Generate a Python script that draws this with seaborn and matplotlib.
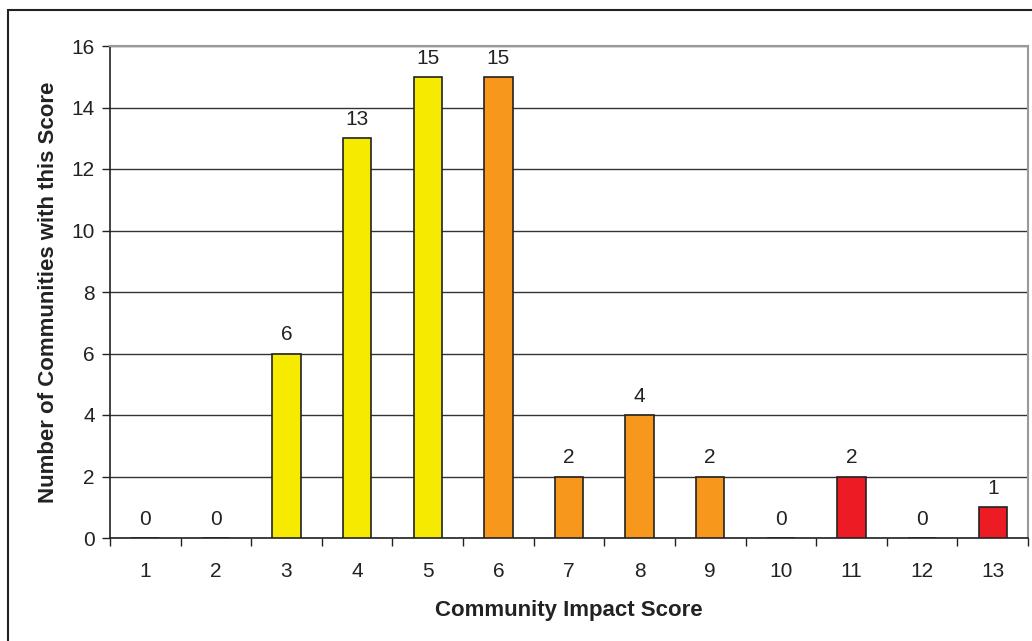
import pandas as pd
import matplotlib
matplotlib.use("Agg")
import matplotlib.pyplot as plt
import seaborn as sns
from matplotlib.patches import Rectangle

# Datos
puntajes = ["1", "2", "3", "4", "5", "6", "7", "8", "9", "10", "11", "12", "13"]
comunidades = [0, 0, 6, 13, 15, 15, 2, 4, 2, 0, 2, 0, 1]
grupo = ["bajo", "bajo", "bajo", "bajo", "bajo", "medio", "medio", "medio", "medio",
         "alto", "alto", "alto", "alto"]
colores = {"bajo": "#F5EA00", "medio": "#F7981D", "alto": "#ED1C24"}

df = pd.DataFrame({"puntaje": puntajes, "n": comunidades, "grupo": grupo})

sns.set_style("white")
plt.rcParams['font.family'] = ['Liberation Sans', 'DejaVu Sans']

fig = plt.figure(figsize=(10.32, 6.41), dpi=100)
ax = fig.add_axes([110 / 1032, 103 / 641, 918 / 1032, 492 / 641])

sns.barplot(data=df, x="puntaje", y="n", hue="grupo", palette=colores, dodge=False,
            saturation=1, width=0.4, edgecolor="#222222", linewidth=1.2, legend=False,
            ax=ax, zorder=3)

ax.set_ylim(0, 16)
ax.set_xlim(-0.5, len(puntajes) - 0.5)
ax.set_yticks(range(0, 17, 2))
ax.yaxis.grid(True, color="#333333", linewidth=1)
ax.set_axisbelow(True)

# etiquetas de valores
for i, v in enumerate(comunidades):
    ax.text(i, v + 0.3, str(v), ha="center", va="bottom", fontsize=15, color="#222222")

# ticks entre categorias
ax.set_xticks([i - 0.5 for i in range(len(puntajes) + 1)], minor=True)
ax.tick_params(axis="x", which="minor", length=6, width=1, color="#222222", direction="out", bottom=True)
ax.tick_params(axis="x", which="major", length=0, labelsize=15, pad=17, colors="#222222")
ax.tick_params(axis="y", which="major", length=6, width=1, direction="out", left=True,
               labelsize=15, pad=5, colors="#222222")

for lado in ["left", "bottom"]:
    ax.spines[lado].set_color("#222222")
    ax.spines[lado].set_linewidth(1.2)
for lado in ["top", "right"]:
    ax.spines[lado].set_color("#999999")
    ax.spines[lado].set_linewidth(1.5)

ax.set_xlabel("Community Impact Score", fontsize=16, fontweight="bold", labelpad=14, color="#222222")
ax.set_ylabel("Number of Communities with this Score", fontsize=16, fontweight="bold",
              labelpad=9, color="#222222")

# marco exterior
fig.patches.append(Rectangle((8 / 1032, -0.05), 1.1, 1 - 10 / 641 + 0.05, transform=fig.transFigure,
                             fill=False, edgecolor="#222222", linewidth=1.5, zorder=0))

fig.savefig("out.png", dpi=100)
